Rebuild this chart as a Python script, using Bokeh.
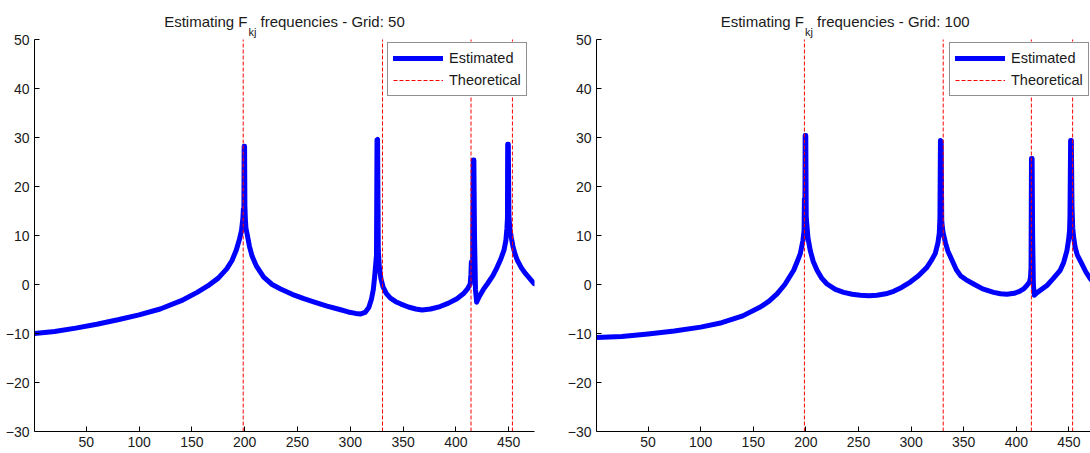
from bokeh.plotting import figure
from bokeh.layouts import row
from bokeh.models import Label, Legend, LegendItem, FixedTicker, Range1d
from bokeh.embed import file_html
from bokeh.resources import INLINE

FONT = "Liberation Sans"

# ---------------- data ----------------
x_ticks = [50, 100, 150, 200, 250, 300, 350, 400, 450]
y_ticks = [-30, -20, -10, 0, 10, 20, 30, 40, 50]
y_limits = (-30, 50)

theoretical = [198.6, 330.5, 414.3, 453.5]

# Grid: 50 estimate
x_grid50 = [1, 20, 40, 60, 80, 100, 120, 140, 155, 165, 175, 183, 188, 192, 195, 197,
            198.3, 198.8, 199.2, 199.5, 199.9, 200.2, 200.6, 201.2, 202.4, 204.5, 207, 211,
            218, 226, 234, 245, 256, 266, 278, 290, 298, 305, 310, 314, 317.5, 320, 321.8,
            323, 324, 324.8, 325.3, 325.8, 326.5, 327.5, 329, 331, 334, 338, 343, 348, 355,
            362, 368, 376, 385, 393, 401, 407, 411, 413.5, 414.2, 414.6, 415.0, 415.8, 416.4,
            417.0, 417.6, 418.5, 419.6, 422, 426, 430, 435, 439, 442.5, 445.5, 447.3, 448.3,
            448.8, 449.0, 449.6, 450.2, 451, 452.5, 454, 456, 458, 462, 466, 470, 474]
y_grid50 = [-10.0, -9.6, -8.9, -8.1, -7.2, -6.2, -5.0, -3.3, -1.6, -0.3, 1.3, 3.2, 4.9, 7.0, 9.2, 11.0,
            13.5, 15.5, 12.5, 28.2, 28.2, 16.0, 13.5, 11.5, 10.2, 7.8, 5.8, 3.8,
            1.5, 0.0, -0.9, -2.0, -2.9, -3.6, -4.4, -5.1, -5.6, -5.9, -6.0, -5.7, -4.7, -3.0, -1.0,
            1.5, 4.0, 6.0, 29.5, 29.6, 7.0, 3.5, 1.2, -0.5, -1.8, -2.8, -3.5, -4.0, -4.6,
            -5.0, -5.2, -5.0, -4.5, -3.8, -2.9, -1.9, -0.9, 0.1, 2.0, 4.6, 1.5, 1.0, 25.4,
            25.4, 10.0, -1.0, -3.6, -2.5, -1.0, 0.2, 1.8, 3.5, 5.2, 7.0, 9.0, 11.5,
            13.5, 28.6, 28.6, 14.0, 11.5, 9.5, 7.8, 6.2, 5.0, 3.4, 2.2, 1.2, 0.2]

# Grid: 100 estimate
x_grid100 = [1, 25, 50, 75, 100, 120, 140, 156.7, 165, 172.6, 180, 188.4, 192, 194.7, 197.2,
             198.3, 198.6, 199.0, 199.3, 199.9, 200.3, 200.8, 202, 204.2, 207, 210.6, 215, 220.1,
             228, 235.9, 244, 251.7, 260, 267.6, 276, 283.4, 291, 299.2, 307, 315, 319, 322.9,
             325.5, 326.8, 327.4, 327.9, 328.6, 329.1, 329.8, 330.5, 332.7, 335, 339, 343, 346.9,
             352, 359.4, 368, 378.4, 385, 391.1, 398, 403, 406.9, 410, 412.5, 413.5, 414.0, 414.4,
             415.0, 415.5, 416.2, 417.1, 420, 424, 429.1, 435, 441.7, 445, 448.1, 449.6, 450.6,
             451.0, 451.6, 452.3, 452.9, 453.6, 454.5, 455.9, 458, 462.3, 466, 470.2, 474]
y_grid100 = [-10.8, -10.6, -10.1, -9.5, -8.7, -7.8, -6.4, -4.6, -3.4, -1.9, 0.0, 2.9, 4.8, 6.3, 9.0,
             11.0, 17.5, 12.0, 30.4, 30.4, 14.0, 12.5, 9.5, 6.9, 4.7, 2.9, 1.3, 0.1,
             -1.0, -1.6, -2.0, -2.2, -2.3, -2.2, -1.9, -1.4, -0.6, 0.5, 1.8, 3.5, 4.8, 6.3,
             8.5, 10.5, 13.5, 29.4, 29.2, 13.0, 11.5, 10.5, 8.5, 6.8, 4.9, 3.0, 1.8,
             1.0, 0.1, -0.9, -1.6, -1.9, -2.0, -1.8, -1.4, -0.9, -0.2, 0.5, 1.5, 3.5, 25.7,
             25.7, 10.0, 0.0, -2.2, -1.6, -1.0, -0.2, 1.2, 2.9, 4.5, 6.9, 9.0, 11.0,
             14.0, 29.4, 29.4, 16.0, 11.5, 9.6, 7.6, 6.0, 4.2, 2.6, 1.2, 0.3]

titles = [("Estimating F", "kj", "frequencies - Grid: 50"),
          ("Estimating F", "kj", "frequencies - Grid: 100")]

PX_PER_UNIT = 392 / 80            # vertical scale of the original axes
TOP_PAD_UNITS = 39 / PX_PER_UNIT  # title room kept inside the frame above y = 50


def make_fig(xs, ys, title, x_max, border_left, border_right, x_f):
    p = figure(width=545, height=453, x_range=Range1d(1, x_max),
               y_range=Range1d(y_limits[0], y_limits[1] + TOP_PAD_UNITS),
               output_backend="svg", toolbar_location=None,
               min_border_left=border_left, min_border_right=border_right,
               min_border_top=0, min_border_bottom=22)
    p.xgrid.visible = False
    p.ygrid.visible = False
    p.outline_line_color = None
    p.background_fill_color = "white"
    p.border_fill_color = "white"

    est = p.line(xs, ys, line_color="#0000ff", line_width=5, line_join="round", line_cap="round")
    theo = p.segment(x0=theoretical, y0=[y_limits[0]] * len(theoretical), x1=theoretical,
                     y1=[y_limits[1]] * len(theoretical), line_color="#ff0000", line_width=1,
                     line_dash="4 2")

    p.xaxis.ticker = FixedTicker(ticks=x_ticks)
    p.yaxis.ticker = FixedTicker(ticks=y_ticks)
    p.yaxis.bounds = y_limits
    for ax in (p.xaxis[0], p.yaxis[0]):
        ax.major_tick_in = 5
        ax.major_tick_out = 0
        ax.minor_tick_in = 0
        ax.minor_tick_out = 0
        ax.axis_line_color = "black"
        ax.major_tick_line_color = "black"
        ax.major_label_text_font = FONT
        ax.major_label_text_font_size = "14px"
        ax.major_label_text_color = "#1a1a1a"
    p.xaxis.major_label_standoff = 5
    p.yaxis.major_label_standoff = 5

    legend = Legend(items=[LegendItem(label="Estimated", renderers=[est]),
                           LegendItem(label="Theoretical", renderers=[theo])],
                    location=(353, 335), border_line_color="#222222", border_line_width=1,
                    background_fill_color="white", background_fill_alpha=1,
                    label_text_font=FONT, label_text_font_size="14.5px", label_text_color="#1a1a1a",
                    glyph_width=50, glyph_height=20, label_height=20, label_standoff=6,
                    padding=5, spacing=2, margin=0)
    p.add_layout(legend)

    main, sub, rest = title
    p.add_layout(Label(x=x_f, y=410, x_units="screen", y_units="screen", text=main,
                       text_align="right", text_baseline="alphabetic", text_font=FONT,
                       text_font_size="15px", text_color="#1a1a1a"))
    p.add_layout(Label(x=x_f + 1, y=400, x_units="screen", y_units="screen", text=sub,
                       text_align="left", text_baseline="alphabetic", text_font=FONT,
                       text_font_size="11px", text_color="#1a1a1a"))
    p.add_layout(Label(x=x_f + 13, y=410, x_units="screen", y_units="screen", text=rest,
                       text_align="left", text_baseline="alphabetic", text_font=FONT,
                       text_font_size="15px", text_color="#1a1a1a"))
    return p


p1 = make_fig(x_grid50, y_grid50, titles[0], 474.4, 34, 11, 213)
p2 = make_fig(x_grid100, y_grid100, titles[1], 470.5, 51, 0, 207.5)

layout = row(p1, p2)
open("out.html", "w").write(file_html(layout, INLINE))
